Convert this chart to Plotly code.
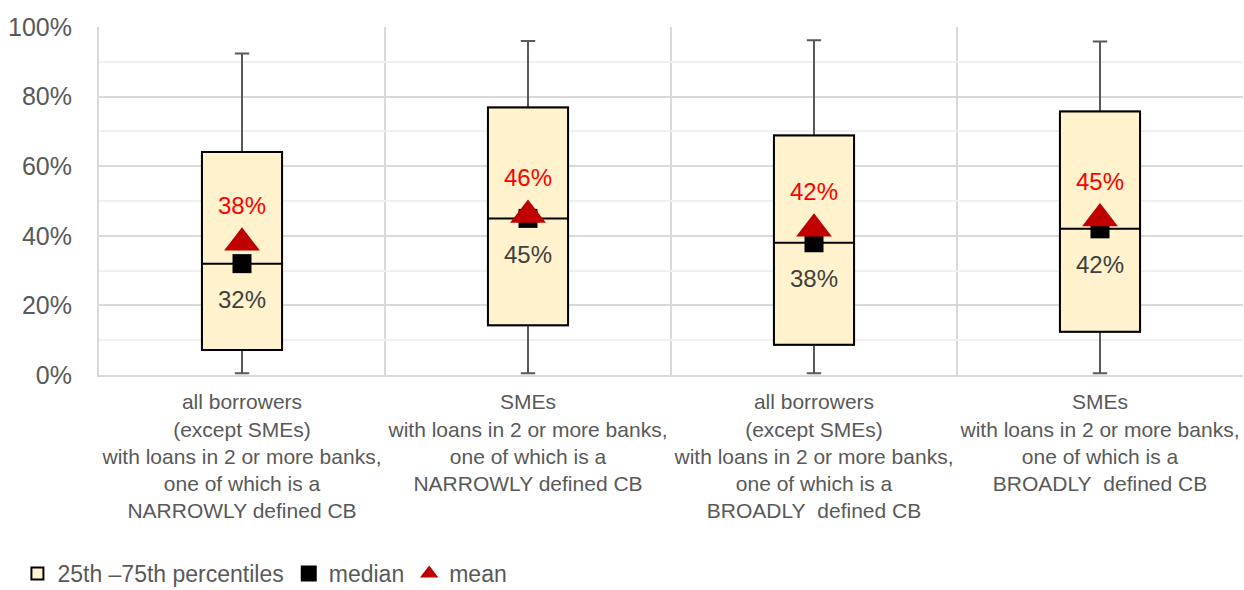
import plotly.graph_objects as go

# Categories shown along the x axis
categories = [
    "all borrowers<br>(except SMEs)<br>with loans in 2 or more banks,<br>one of which is a<br>NARROWLY defined CB",
    "SMEs<br>with loans in 2 or more banks,<br>one of which is a<br>NARROWLY defined CB",
    "all borrowers<br>(except SMEs)<br>with loans in 2 or more banks,<br>one of which is a<br>BROADLY\u00a0\u00a0defined CB",
    "SMEs<br>with loans in 2 or more banks,<br>one of which is a<br>BROADLY\u00a0\u00a0defined CB",
]
positions = [0, 1, 2, 3]

# Distribution statistics per category (shares)
whisker_low = [0.005, 0.005, 0.005, 0.005]
p25 = [0.072, 0.143, 0.087, 0.124]
median = [0.32, 0.45, 0.38, 0.42]
p75 = [0.641, 0.769, 0.688, 0.757]
whisker_high = [0.924, 0.960, 0.962, 0.958]
mean = [0.38, 0.46, 0.42, 0.45]

FONT = "Liberation Sans, Arial, sans-serif"
GRID = "#D9D9D9"
MINOR_GRID = "#F0F0F0"
TEXT = "#595959"
BOX_FILL = "#FFF2CC"
BOX_W = 0.28

fig = go.Figure()

# Whiskers (gray) drawn from the full range
fig.add_trace(go.Box(
    x=positions, q1=p25, median=median, q3=p75,
    lowerfence=whisker_low, upperfence=whisker_high,
    width=BOX_W, whiskerwidth=0.18,
    fillcolor=BOX_FILL, line=dict(color="#595959", width=2),
    showlegend=False, hoverinfo="skip",
))

# Interquartile box with median line (black outline)
fig.add_trace(go.Box(
    x=positions, q1=p25, median=median, q3=p75,
    lowerfence=p25, upperfence=p75,
    width=BOX_W, whiskerwidth=0,
    fillcolor=BOX_FILL, line=dict(color="black", width=2),
    name="25th \u201375th percentiles", hoverinfo="skip",
))

# Median markers
fig.add_trace(go.Scatter(
    x=positions, y=median, mode="markers", name="median",
    marker=dict(symbol="square", size=19, color="black"),
    hoverinfo="skip",
))

# Mean markers
fig.add_trace(go.Scatter(
    x=positions, y=mean, mode="markers", name="mean",
    marker=dict(symbol="triangle-up", size=31, color="#C00000"),
    hoverinfo="skip",
))

annotations = []
for xp, mv, md in zip(positions, mean, median):
    annotations.append(dict(
        x=xp, y=mv, xref="x", yref="y", text=f"{mv:.0%}", showarrow=False,
        yshift=37, font=dict(family=FONT, size=24, color="#FF0000"),
    ))
    annotations.append(dict(
        x=xp, y=md, xref="x", yref="y", text=f"{md:.0%}", showarrow=False,
        yshift=-36, font=dict(family=FONT, size=24, color="#404040"),
    ))

fig.update_layout(
    width=1244, height=590,
    margin=dict(l=99, r=1, t=27, b=215),
    paper_bgcolor="white", plot_bgcolor="white",
    boxmode="overlay",
    font=dict(family=FONT, color=TEXT),
    annotations=annotations,
    legend=dict(
        orientation="h", x=0.014, xanchor="left", xref="container",
        y=0.028, yanchor="middle", yref="container",
        font=dict(family=FONT, size=23, color=TEXT),
        itemwidth=30, tracegroupgap=0,
    ),
    xaxis=dict(
        range=[-0.5, 3.5], tickmode="array", tickvals=positions, ticktext=categories,
        showgrid=False, zeroline=False, ticks="", automargin=False,
        showline=True, linecolor=GRID, linewidth=2,
        ticklabelstandoff=7,
        tickfont=dict(family=FONT, size=21, color=TEXT),
        minor=dict(tick0=0.5, dtick=1, showgrid=True, gridcolor=GRID, gridwidth=2, ticks=""),
    ),
    yaxis=dict(
        range=[0, 1], tickmode="linear", tick0=0, dtick=0.2, tickformat=".0%",
        showgrid=True, gridcolor=GRID, gridwidth=2, zeroline=False, automargin=False,
        showline=True, linecolor=GRID, linewidth=2, ticks="",
        ticklabelstandoff=20,
        tickfont=dict(family=FONT, size=25, color=TEXT),
        minor=dict(dtick=0.1, showgrid=True, gridcolor=MINOR_GRID, gridwidth=2, ticks=""),
    ),
)

fig.write_html("out.html")
